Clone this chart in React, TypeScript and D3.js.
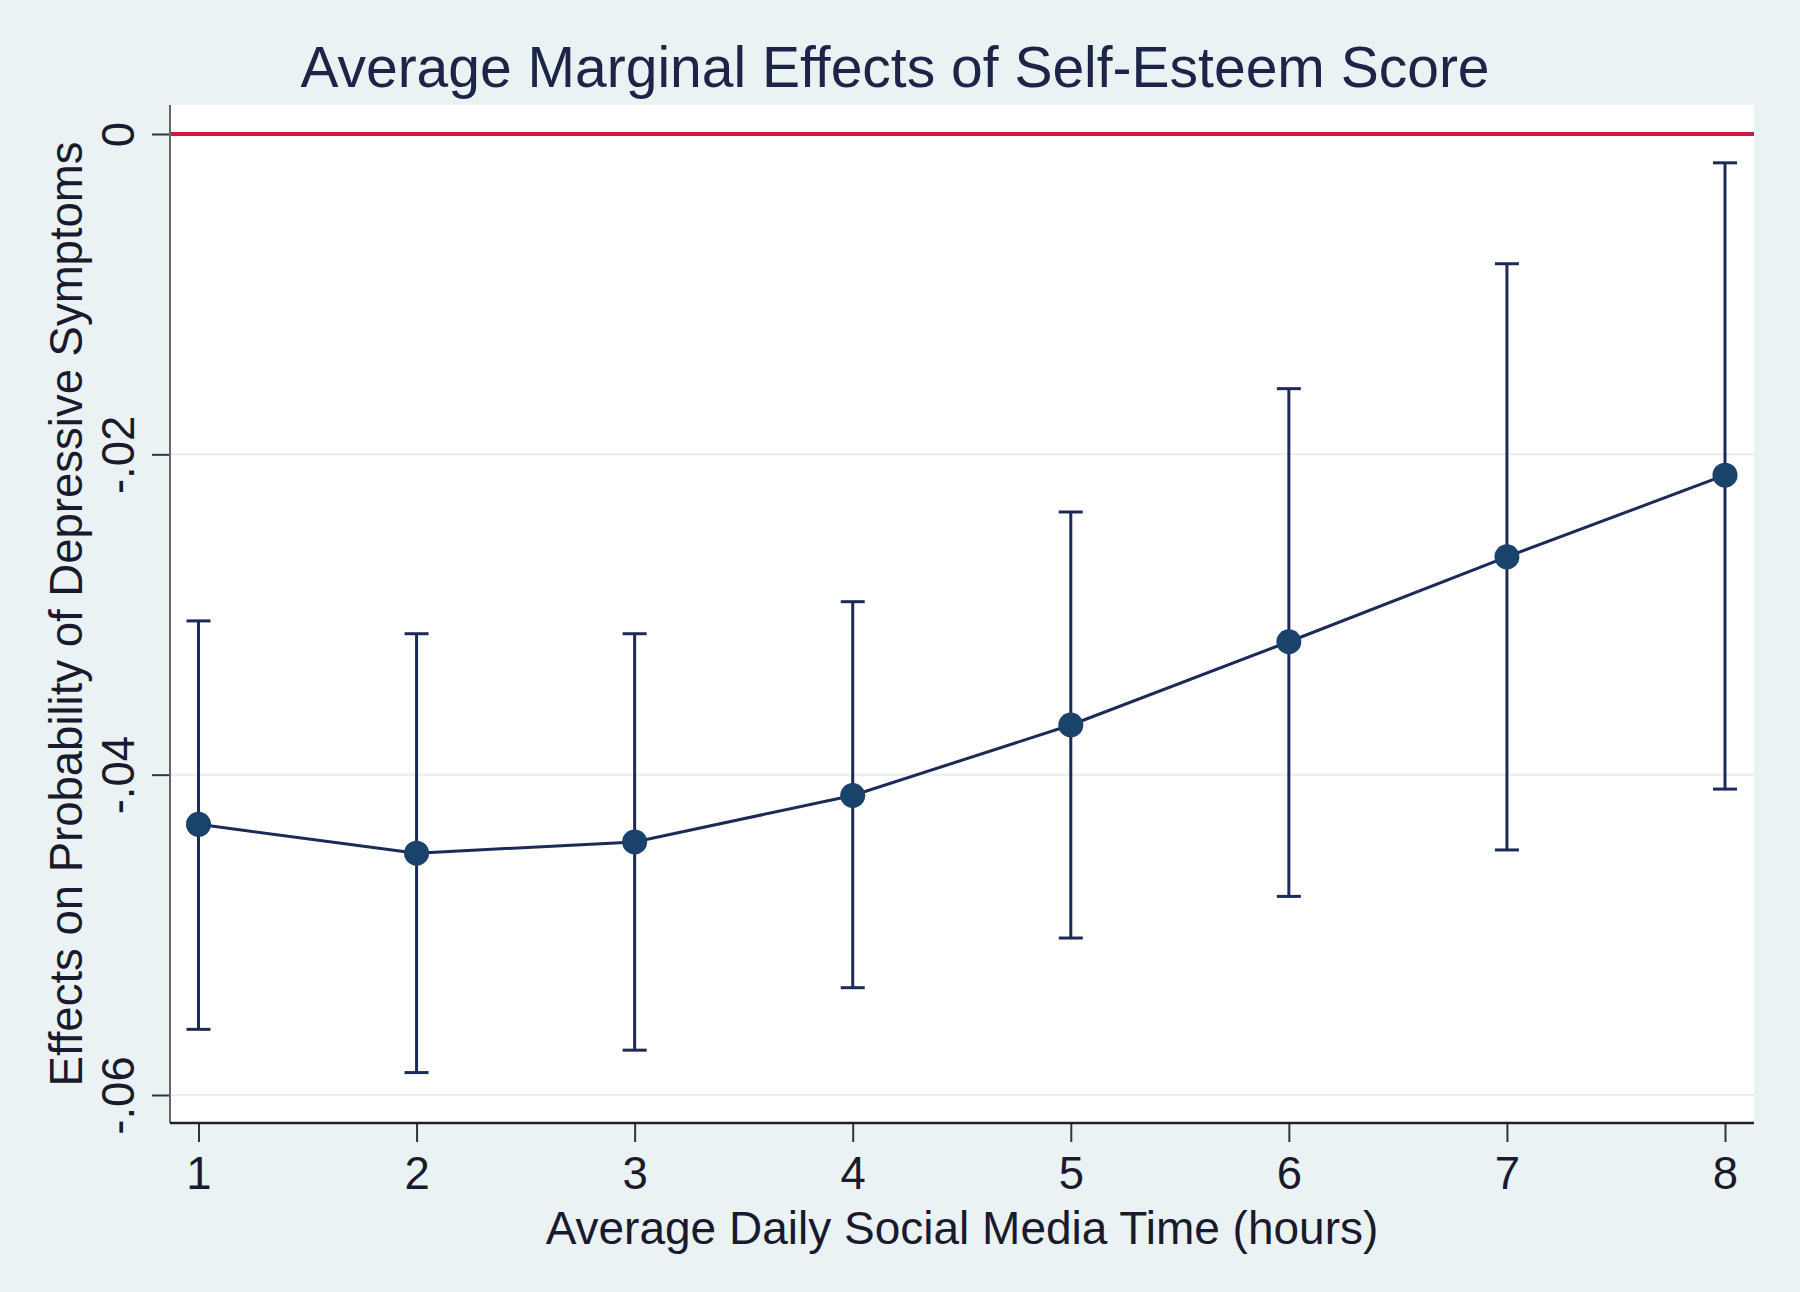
import { useEffect, useRef } from 'react';
import * as d3 from 'd3';

// hours of social media per day
const hours = [1, 2, 3, 4, 5, 6, 7, 8];
// average marginal effect and 95% CI bounds
const effects = [-0.0431, -0.0449, -0.0442, -0.0413, -0.0369, -0.0317, -0.0264, -0.0213];
const lowerCI = [-0.0559, -0.0586, -0.0572, -0.0533, -0.0502, -0.0476, -0.0447, -0.0409];
const upperCI = [-0.0304, -0.0312, -0.0312, -0.0292, -0.0236, -0.0159, -0.0081, -0.0018];
const yTicks = [0, -0.02, -0.04, -0.06];

const title = 'Average Marginal Effects of Self-Esteem Score';
const xTitle = 'Average Daily Social Media Time (hours)';
const yTitle = 'Effects on Probability of Depressive Symptoms';

const fmtY = (d: number) => (d === 0 ? '0' : '-' + Math.abs(d).toFixed(2).replace(/^0/, ''));

export default function App() {
  const svgRef = useRef<SVGSVGElement>(null);
  const width = 1800;
  const height = 1292;
  const plot = { left: 170, right: 1754, top: 105, bottom: 1123 };
  const font = '"Liberation Sans", Arial, sans-serif';
  const navy = '#1c2a58';

  useEffect(() => {
    document.body.style.margin = '0';
    if (!svgRef.current) return;
    const svg = d3.select(svgRef.current);
    svg.selectAll('*').remove();

    const x = d3.scaleLinear().domain([1, 8]).range([198.5, 1725]);
    const y = d3.scaleLinear().domain([0, -0.06]).range([134, 1095]);

    svg.append('rect').attr('width', width).attr('height', height).attr('fill', '#eaf2f3');
    svg.append('rect')
      .attr('x', plot.left).attr('y', plot.top)
      .attr('width', plot.right - plot.left).attr('height', plot.bottom - plot.top)
      .attr('fill', '#ffffff');

    // grid lines
    svg.append('g')
      .selectAll('line')
      .data(yTicks.filter(d => d !== 0))
      .enter()
      .append('line')
      .attr('x1', plot.left).attr('x2', plot.right)
      .attr('y1', d => y(d)).attr('y2', d => y(d))
      .attr('stroke', '#e6eff0')
      .attr('stroke-width', 2);

    // reference line at zero
    svg.append('line')
      .attr('x1', plot.left).attr('x2', plot.right)
      .attr('y1', y(0)).attr('y2', y(0))
      .attr('stroke', '#d2143f')
      .attr('stroke-width', 4);

    // y axis
    const yAxis = svg.append('g')
      .attr('transform', `translate(${plot.left},0)`)
      .call(d3.axisLeft(y).tickValues(yTicks).tickSize(18).tickFormat(d => fmtY(d as number)));
    yAxis.select('.domain').remove();
    yAxis.selectAll('line').attr('stroke', '#333').attr('stroke-width', 2);
    yAxis.selectAll('text')
      .attr('x', null).attr('dy', null)
      .attr('transform', 'translate(-36,0) rotate(-90)')
      .attr('text-anchor', 'middle')
      .attr('fill', '#1a1a2e')
      .style('font-family', font)
      .style('font-size', '45.5px');
    svg.append('line')
      .attr('x1', plot.left).attr('x2', plot.left)
      .attr('y1', plot.top).attr('y2', plot.bottom)
      .attr('stroke', '#666').attr('stroke-width', 2);

    // x axis
    const xAxis = svg.append('g')
      .attr('transform', `translate(0,${plot.bottom})`)
      .call(d3.axisBottom(x).tickValues(hours).tickSize(19).tickFormat(d => String(d)));
    xAxis.select('.domain').remove();
    xAxis.selectAll('line').attr('stroke', '#333').attr('stroke-width', 2);
    xAxis.selectAll('text')
      .attr('y', 66).attr('dy', null)
      .attr('fill', '#1a1a2e')
      .style('font-family', font)
      .style('font-size', '45.5px');
    svg.append('line')
      .attr('x1', plot.left).attr('x2', plot.right)
      .attr('y1', plot.bottom).attr('y2', plot.bottom)
      .attr('stroke', '#222').attr('stroke-width', 2.5);

    // confidence intervals
    const ci = svg.append('g');
    hours.forEach((h, i) => {
      ci.append('line')
        .attr('x1', x(h)).attr('x2', x(h))
        .attr('y1', y(upperCI[i])).attr('y2', y(lowerCI[i]))
        .attr('stroke', navy).attr('stroke-width', 3);
      [upperCI[i], lowerCI[i]].forEach(v => {
        ci.append('line')
          .attr('x1', x(h) - 12).attr('x2', x(h) + 12)
          .attr('y1', y(v)).attr('y2', y(v))
          .attr('stroke', navy).attr('stroke-width', 3);
      });
    });

    // connecting line and markers
    const line = d3.line<number>()
      .x((_, i) => x(hours[i]))
      .y(d => y(d));
    svg.append('path')
      .datum(effects)
      .attr('d', line)
      .attr('fill', 'none')
      .attr('stroke', navy)
      .attr('stroke-width', 3);

    svg.append('g')
      .selectAll('circle')
      .data(effects)
      .enter()
      .append('circle')
      .attr('cx', (_, i) => x(hours[i]))
      .attr('cy', d => y(d))
      .attr('r', 12.5)
      .attr('fill', '#1a436b');

    // titles
    svg.append('text')
      .attr('x', 895).attr('y', 87)
      .attr('text-anchor', 'middle')
      .attr('fill', '#1c2548')
      .style('font-family', font)
      .style('font-size', '57px')
      .text(title);

    svg.append('text')
      .attr('x', (plot.left + plot.right) / 2).attr('y', 1244)
      .attr('text-anchor', 'middle')
      .attr('fill', '#1a1a2e')
      .style('font-family', font)
      .style('font-size', '46px')
      .text(xTitle);

    svg.append('text')
      .attr('transform', `translate(82,${(plot.top + plot.bottom) / 2}) rotate(-90)`)
      .attr('text-anchor', 'middle')
      .attr('fill', '#1a1a2e')
      .style('font-family', font)
      .style('font-size', '45.5px')
      .text(yTitle);
  }, []);

  return (
    <svg
      ref={svgRef}
      width={width}
      height={height}
      style={{ display: 'block', position: 'absolute', left: 0, top: 0 }}
    />
  );
}
